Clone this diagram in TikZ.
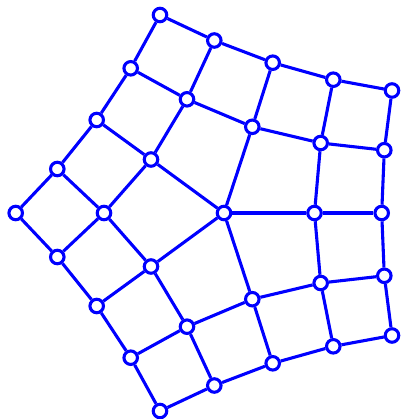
\documentclass[tikz,border=0pt]{standalone}
\usepackage{tikz}
\usetikzlibrary{positioning}

\begin{document}
\begin{tikzpicture}[
  x=0.025cm, y=-0.025cm,
  vtx/.style={circle, draw=blue, fill=white, line width=2.2pt, minimum size=9.6pt, inner sep=0pt},
  edge/.style={draw=blue, line width=2.2pt}
]
\useasboundingbox (0,0) rectangle (400,419);

% Outer ring, clockwise from the left corner
\node[vtx] (b0)  at (15.7,213)  {};
\node[vtx] (b1)  at (57.3,169)  {};
\node[vtx] (b2)  at (96.7,120)  {};
\node[vtx] (b3)  at (130.7,68.3) {};
\node[vtx] (b4)  at (160,15)    {};
\node[vtx] (b5)  at (214.3,40.5) {};
\node[vtx] (b6)  at (272.7,62.7) {};
\node[vtx] (b7)  at (333.3,79.7) {};
\node[vtx] (b8)  at (392,90.5)  {};
\node[vtx] (b9)  at (384.3,150.2) {};
\node[vtx] (b10) at (381.7,213) {};
\node[vtx] (b11) at (384.3,275.8) {};
\node[vtx] (b12) at (392,335.5) {};
\node[vtx] (b13) at (333.3,346.3) {};
\node[vtx] (b14) at (272.7,363.3) {};
\node[vtx] (b15) at (214.3,385.5) {};
\node[vtx] (b16) at (160,411)   {};
\node[vtx] (b17) at (130.7,357.7) {};
\node[vtx] (b18) at (96.7,306)  {};
\node[vtx] (b19) at (57.3,257)  {};

% Centre and the spoke midpoints
\node[vtx] (c)  at (224,213)   {};
\node[vtx] (s0) at (151,159.5) {};
\node[vtx] (s1) at (252.3,126.8) {};
\node[vtx] (s2) at (314.5,213) {};
\node[vtx] (s3) at (252.3,299.2) {};
\node[vtx] (s4) at (151,266.5) {};

% Middle of each corner quad
\node[vtx] (q0) at (104,213)   {};
\node[vtx] (q1) at (187,99.3)  {};
\node[vtx] (q2) at (320.7,143) {};
\node[vtx] (q3) at (320.7,283) {};
\node[vtx] (q4) at (187,326.7) {};

% Boundary
\draw[edge] (b0) -- (b1) -- (b2) -- (b3) -- (b4) -- (b5) -- (b6) -- (b7) -- (b8) -- (b9) -- (b10);
\draw[edge] (b10) -- (b11) -- (b12) -- (b13) -- (b14) -- (b15) -- (b16) -- (b17) -- (b18) -- (b19) -- (b0);

% Spokes
\draw[edge] (c) -- (s0) -- (b2);
\draw[edge] (c) -- (s1) -- (b6);
\draw[edge] (c) -- (s2) -- (b10);
\draw[edge] (c) -- (s3) -- (b14);
\draw[edge] (c) -- (s4) -- (b18);

% Inner grid lines of the corner quads
\draw[edge] (b19) -- (q0) -- (b1);
\draw[edge] (s4) -- (q0) -- (s0);
\draw[edge] (b3) -- (q1) -- (b5);
\draw[edge] (s0) -- (q1) -- (s1);
\draw[edge] (b7) -- (q2) -- (b9);
\draw[edge] (s1) -- (q2) -- (s2);
\draw[edge] (b11) -- (q3) -- (b13);
\draw[edge] (s2) -- (q3) -- (s3);
\draw[edge] (b15) -- (q4) -- (b17);
\draw[edge] (s3) -- (q4) -- (s4);
\end{tikzpicture}
\end{document}
